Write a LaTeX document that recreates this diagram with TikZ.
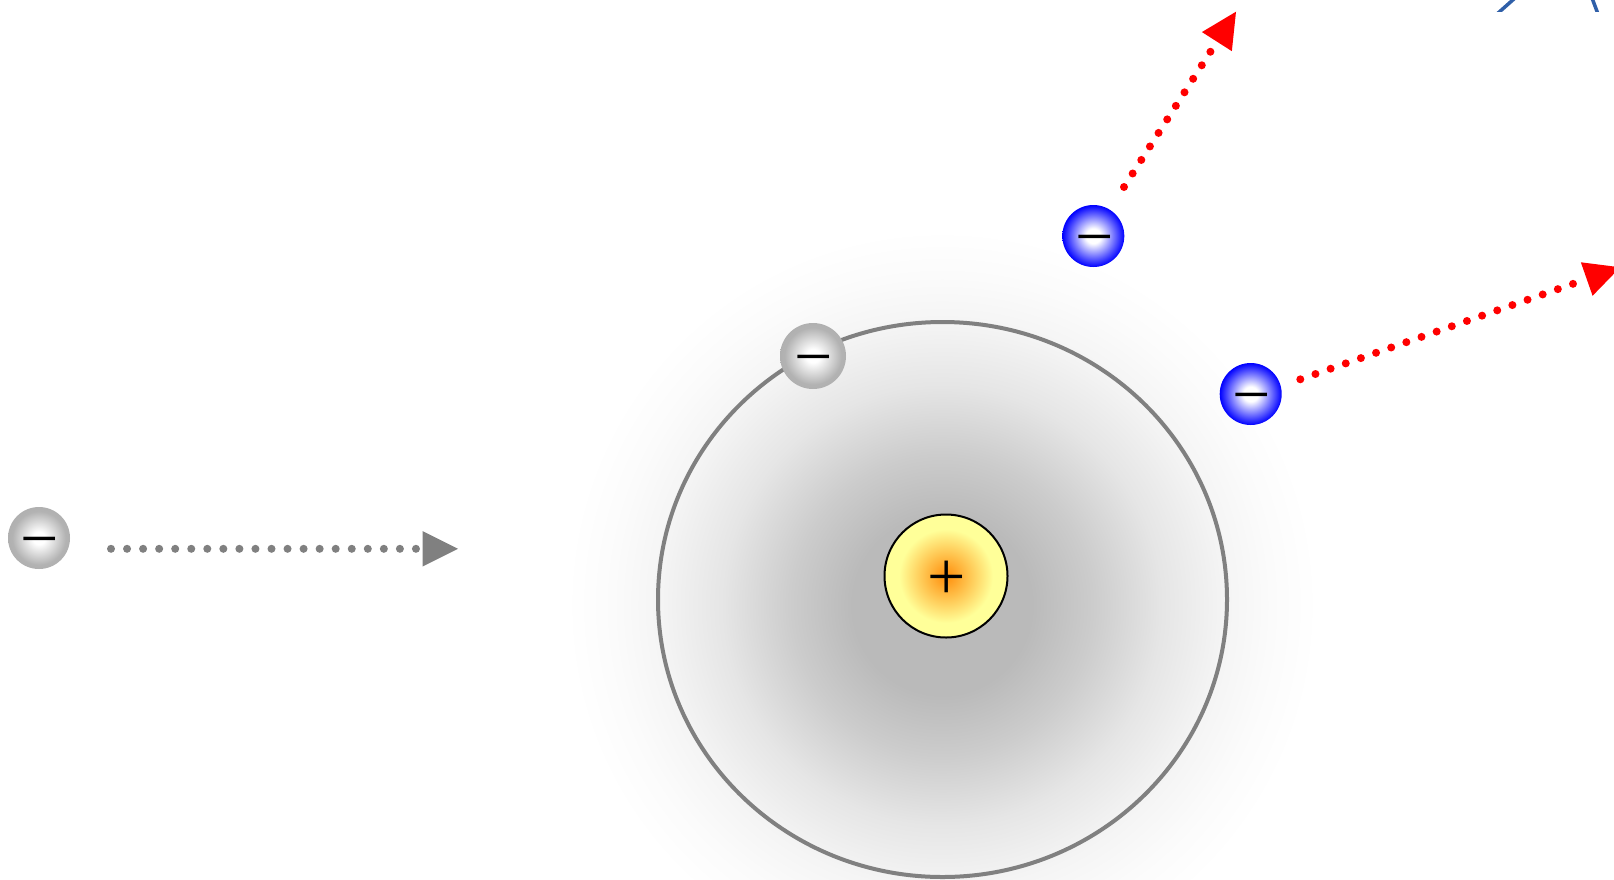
\documentclass[tikz,border=0pt]{standalone}
\usepackage{fontspec}
\setmainfont{Liberation Serif}
\usetikzlibrary{arrows.meta}
\pgfdeclareradialshading{cloudshade}{\pgfpoint{0bp}{0bp}}{%
 rgb(0bp)=(.73,.73,.73); rgb(6bp)=(.73,.73,.73); rgb(10bp)=(.80,.80,.80); rgb(14.6bp)=(.90,.90,.90); rgb(18.9bp)=(.96,.96,.96); rgb(22bp)=(.985,.985,.985); rgb(25bp)=(1,1,1); rgb(50bp)=(1,1,1)}
\pgfdeclareradialshading{grayshade}{\pgfpoint{0bp}{0bp}}{%
 rgb(0bp)=(1,1,1); rgb(5bp)=(1,1,1); rgb(21.5bp)=(.70,.70,.70); rgb(25bp)=(.69,.69,.69); rgb(50bp)=(.69,.69,.69)}
\pgfdeclareradialshading{blueshade}{\pgfpoint{0bp}{0bp}}{%
 rgb(0bp)=(1,1,1); rgb(6bp)=(1,1,1); rgb(25bp)=(0,0,1); rgb(50bp)=(0,0,1)}
\pgfdeclareradialshading{coreshade}{\pgfpoint{0bp}{0bp}}{%
 rgb(0bp)=(1,.6,.1); rgb(2bp)=(1,.6,.1); rgb(19bp)=(1,1,.6); rgb(25bp)=(1,1,.6); rgb(50bp)=(1,1,.6)}
\definecolor{fragblue}{HTML}{2F5FA8}
\tikzset{
 x=1pt,y=-1pt,
 electron/.style={circle,inner sep=0pt,minimum size=62pt,font=\fontsize{68}{68}\selectfont,text height=46pt,text depth=0pt},
 gray electron/.style={electron,shading=grayshade},
 blue electron/.style={electron,shading=blueshade},
 dotarrow/.style={line width=8pt,line cap=round,dash pattern=on 0pt off 16.05pt,
   -{Triangle[length=35.5pt,width=35.5pt,line width=0pt]}},
}
\begin{document}
\begin{tikzpicture}
\useasboundingbox (0,0) rectangle (1614,879);
\clip (0,0) rectangle (1614,879);
\fill[white] (0,0) rectangle (1614,879);
\node[circle,inner sep=0pt,minimum size=752pt,shading=cloudshade] (cloud) at (942,605) {};
\draw[gray,line width=4pt] (942.5,599.5) ellipse [x radius=284.5,y radius=277.5];
\node[circle,draw=black,line width=2pt,inner sep=0pt,minimum size=123pt,shading=coreshade,
  font=\fontsize{68}{68}\selectfont,text height=46pt,text depth=0pt] (core) at (946,576) {\kern1pt +};
\node[gray electron,minimum size=66pt] (boundE) at (813,356) {\kern2pt −};
\node[gray electron] (inE) at (39,538) {\kern2pt −};
\node[blue electron] (outA) at (1093.3,236) {\kern2pt −};
\node[blue electron] (outB) at (1250.7,394) {\kern2pt −};
\coordinate (inS) at (111,548.8);
\coordinate (inT) at (458,548.8);
\coordinate (aS) at (1124,187);
\coordinate (aT) at (1236,11.7);
\coordinate (bS) at (1300.3,379.3);
\coordinate (bT) at (1620.2,267.3);
\draw[dotarrow,gray] (inS) -- (inT);
\draw[dotarrow,red] (aS) -- (aT);
\draw[dotarrow,red] (bS) -- (bT);
\begin{scope}
\clip (1480,0) rectangle (1614,11.5);
\draw[fragblue,line width=3.5pt] (1497,14) -- (1515,-2);
\draw[fragblue,line width=3.5pt] (1598,14) -- (1592,-2);
\end{scope}
\end{tikzpicture}
\end{document}
